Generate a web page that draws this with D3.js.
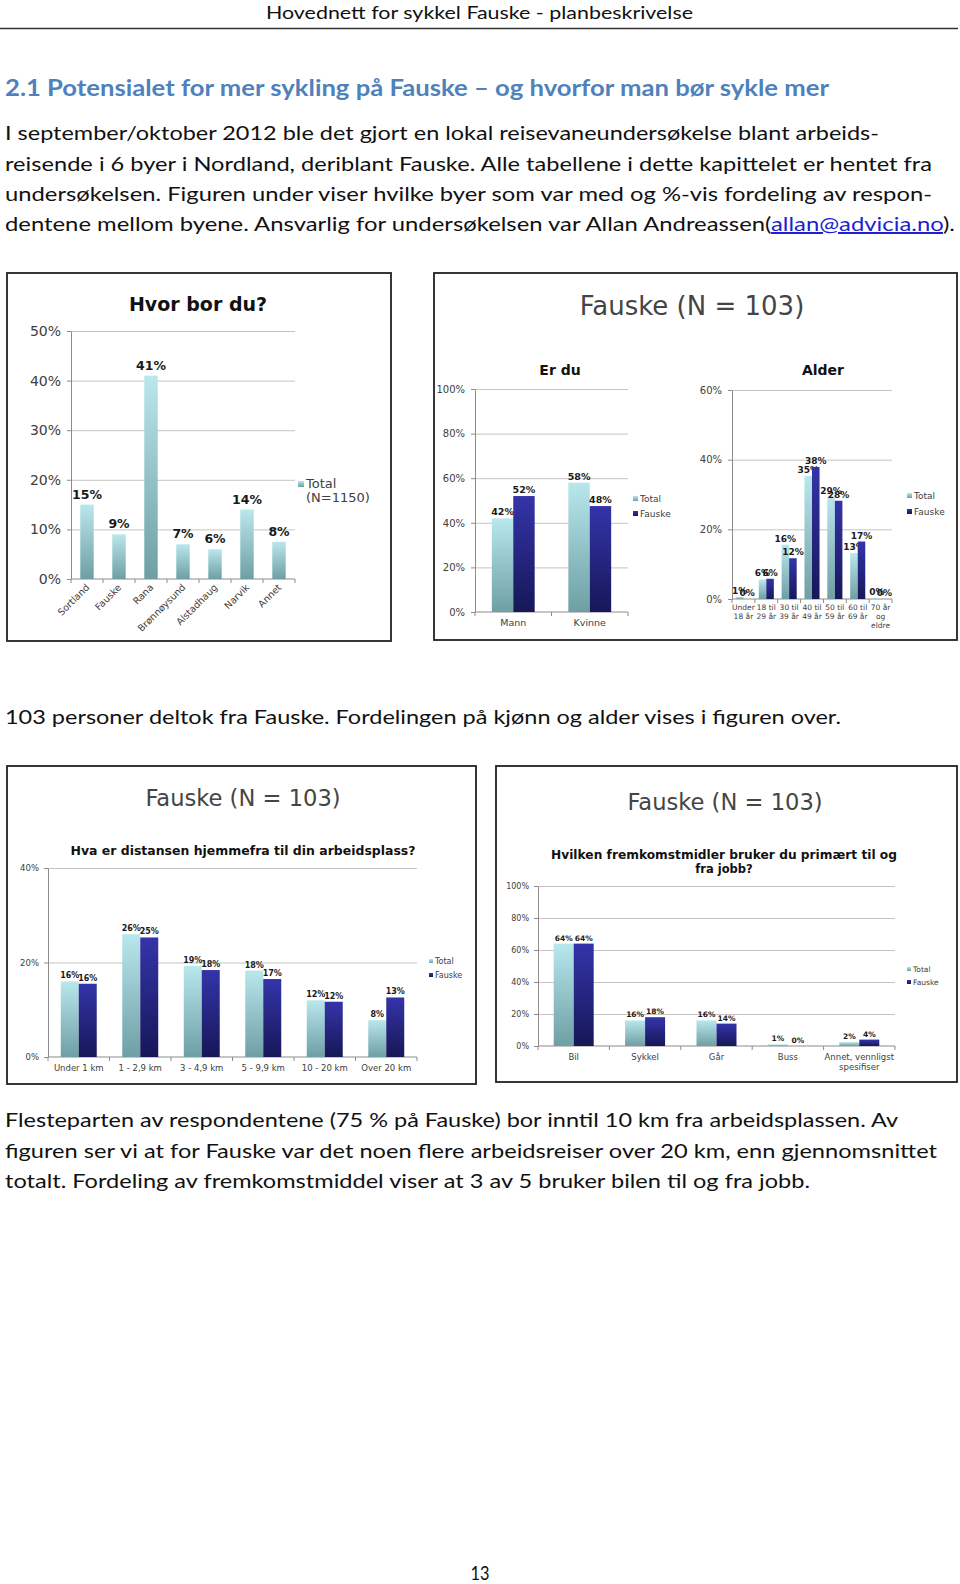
<!DOCTYPE html>
<html>
<head>
<meta charset="utf-8">
<script src="https://cdn.jsdelivr.net/npm/d3@7"></script>
<style>
  body { margin: 0; background: #fff; }
  svg text { font-family: "DejaVu Sans", sans-serif; }
</style>
</head>
<body>
<svg id="page" width="960" height="1584"></svg>
<script>
// Hvor bor du?
const byer = ['Sortland', 'Fauske', 'Rana', 'Brønnøysund', 'Alstadhaug', 'Narvik', 'Annet'];
const byerTotal = [15, 9, 41, 7, 6, 14, 7.5];
const ticksByer = [0, 10, 20, 30, 40, 50];

// Er du
const kjonn = [['Mann'], ['Kvinne']];
const kjonnTotal = [42, 58];
const kjonnFauske = [52, 47.5];
const ticksKjonn = [0, 20, 40, 60, 80, 100];

// Alder
const alder = [['Under', '18 år'], ['18 til', '29 år'], ['30 til', '39 år'], ['40 til', '49 år'],
  ['50 til', '59 år'], ['60 til', '69 år'], ['70 år', 'og', 'eldre']];
const alderTotal = [0.6, 5.6, 15.6, 35.3, 29.3, 13.2, 0.2];
const alderFauske = [0, 5.8, 11.7, 37.9, 28.2, 16.5, 0];
const ticksAlder = [0, 20, 40, 60];

// Avstand til arbeidsplass
const avstand = [['Under 1 km'], ['1 - 2,9 km'], ['3 - 4,9 km'], ['5 - 9,9 km'], ['10 - 20 km'], ['Over 20 km']];
const avstandTotal = [16, 26, 19.3, 18.3, 12, 7.8];
const avstandFauske = [15.5, 25.3, 18.4, 16.5, 11.7, 12.6];
const ticksAvstand = [0, 20, 40];

// Fremkomstmiddel
const reise = [['Bil'], ['Sykkel'], ['Går'], ['Buss'], ['Annet, vennligst', 'spesifiser']];
const reiseTotal = [64, 16, 16, 1, 2.4];
const reiseFauske = [64, 18, 14, 0, 4];
const ticksReise = [0, 20, 40, 60, 80, 100];

const svg = d3.select('#page');

// dégradés des barres
const defs = svg.append('defs');
function grad(id, top, bot) {
  const lg = defs.append('linearGradient').attr('id', id)
    .attr('x1', 0).attr('y1', 0).attr('x2', 0).attr('y2', 1);
  lg.append('stop').attr('offset', '0%').attr('stop-color', top);
  lg.append('stop').attr('offset', '100%').attr('stop-color', bot);
}
grad('gTotal', '#b8e7ec', '#6e9fa5');
grad('gFauske', '#3434aa', '#171758');

// texte du document
function docLine(txt, x, y, len, size, opts = {}) {
  const t = svg.append('text')
    .attr('x', x).attr('y', y)
    .attr('font-family', 'Lato, "Open Sans", sans-serif')
    .attr('font-size', size)
    .attr('fill', opts.fill || '#111')
    .attr('font-weight', opts.bold ? 'bold' : 'normal')
    .attr('textLength', len)
    .attr('lengthAdjust', 'spacingAndGlyphs')
    .style('font-family', 'Lato, "Open Sans", sans-serif');
  if (opts.anchor) t.attr('text-anchor', opts.anchor);
  if (Array.isArray(txt)) {
    txt.forEach(p => {
      const s = t.append('tspan').text(p.t);
      if (p.link) s.attr('fill', '#1f1fd0').style('text-decoration', 'underline');
    });
  } else t.text(txt);
  return t;
}

docLine('Hovednett for sykkel Fauske - planbeskrivelse', 266, 19, 427, 17);
svg.append('line').attr('x1', 0).attr('x2', 958).attr('y1', 28.5).attr('y2', 28.5)
  .attr('stroke', '#333').attr('stroke-width', 1.5);

docLine('2.1 Potensialet for mer sykling på Fauske – og hvorfor man bør sykle mer', 5, 96, 824, 22,
  { bold: true, fill: '#4f81bd' });
docLine('I september/oktober 2012 ble det gjort en lokal reisevaneundersøkelse blant arbeids-', 5, 140, 874, 20);
docLine('reisende i 6 byer i Nordland, deriblant Fauske. Alle tabellene i dette kapittelet er hentet fra', 5, 171, 927, 20);
docLine('undersøkelsen.  Figuren under viser hvilke byer som var med og %-vis fordeling av respon-', 5, 201, 927, 20);
docLine([{ t: 'dentene mellom byene. Ansvarlig for undersøkelsen var Allan Andreassen(' },
  { t: 'allan@advicia.no', link: true }, { t: ').' }], 5, 231, 950, 20);

docLine('103 personer deltok fra Fauske. Fordelingen på kjønn og alder vises i figuren over.', 5, 724, 836, 20);
docLine('Flesteparten av respondentene (75 % på Fauske) bor inntil 10 km fra arbeidsplassen. Av', 5, 1127, 893, 20);
docLine('figuren ser vi at for Fauske var det noen flere arbeidsreiser over 20 km, enn gjennomsnittet', 5, 1158, 932, 20);
docLine('totalt. Fordeling av fremkomstmiddel viser at 3 av 5 bruker bilen til og fra jobb.', 5, 1188, 805, 20);
docLine('13', 480, 1580, 19, 20, { anchor: 'middle' });

// cadres
function frame(x0, y0, x1, y1) {
  svg.append('rect').attr('x', x0).attr('y', y0).attr('width', x1 - x0).attr('height', y1 - y0)
    .attr('fill', 'none').attr('stroke', '#222').attr('stroke-width', 1.8);
}
frame(7, 273, 391, 641);
frame(434, 273, 957, 640);
frame(7, 766, 476, 1084);
frame(496, 766, 957, 1082);

function title(txt, x, y, size, opts = {}) {
  const t = svg.append('text').attr('x', x).attr('y', y).attr('text-anchor', 'middle')
    .attr('font-size', size).attr('fill', opts.fill || '#111')
    .attr('font-weight', opts.bold ? 'bold' : 'normal').text(txt);
  if (opts.len) t.attr('textLength', opts.len).attr('lengthAdjust', 'spacingAndGlyphs');
}

title('Hvor bor du?', 198, 311, 19, { bold: true });
title('Fauske (N = 103)', 692, 315, 26, { fill: '#454545' });
title('Er du', 560, 375, 14, { bold: true });
title('Alder', 823, 375, 14, { bold: true });
title('Fauske (N = 103)', 243, 806, 22.6, { fill: '#454545' });
title('Hva er distansen hjemmefra til din arbeidsplass?', 243, 855, 11.5, { bold: true, len: 345 });
title('Fauske (N = 103)', 725, 810, 22.6, { fill: '#454545' });
title('Hvilken fremkomstmidler bruker du primært til og', 724, 859, 11.5, { bold: true, len: 346 });
title('fra jobb?', 724, 873, 11.5, { bold: true });

function barChart(c) {
  const g = svg.append('g');
  const x = d3.scaleBand().domain(d3.range(c.cats.length)).range([c.left, c.right]);
  const y = d3.scaleLinear().domain([0, d3.max(c.ticks)]).range([c.bottom, c.top]);
  const w = c.right - c.left;

  // grille
  g.append('g').attr('transform', `translate(${c.left},0)`)
    .call(d3.axisLeft(y).tickValues(c.ticks.slice(1)).tickSize(-w).tickFormat(''))
    .call(a => {
      a.select('.domain').remove();
      a.selectAll('line').attr('stroke', '#c4c4c4');
    });

  // axe y
  const ya = g.append('g').attr('transform', `translate(${c.left},0)`)
    .call(d3.axisLeft(y).tickValues(c.ticks).tickSize(4).tickSizeOuter(0)
      .tickPadding(c.tickPad).tickFormat(d => d + '%'));
  ya.select('.domain').attr('stroke', '#8c8c8c');
  ya.selectAll('.tick line').attr('stroke', '#8c8c8c');
  ya.selectAll('text').attr('font-size', c.tickSize).attr('fill', '#404040')
    .attr('font-family', 'DejaVu Sans');

  // axe x
  g.append('line').attr('x1', c.left).attr('x2', c.right)
    .attr('y1', c.bottom).attr('y2', c.bottom).attr('stroke', '#8c8c8c');
  g.selectAll(null).data(d3.range(c.cats.length + 1)).join('line')
    .attr('x1', i => c.left + i * x.step()).attr('x2', i => c.left + i * x.step())
    .attr('y1', c.bottom).attr('y2', c.bottom + 4).attr('stroke', '#8c8c8c');

  // barres
  const grpW = x.bandwidth() * c.frac;
  const sub = d3.scaleBand().domain(d3.range(c.series.length)).range([0, grpW]);
  c.series.forEach((s, si) => {
    const bx = i => x(i) + (x.bandwidth() - grpW) / 2 + sub(si);
    g.selectAll(null).data(s.values).join('rect')
      .attr('x', (d, i) => bx(i)).attr('width', sub.bandwidth())
      .attr('y', d => y(d)).attr('height', d => c.bottom - y(d))
      .attr('fill', s.fill);
    g.selectAll(null).data(s.values).join('text')
      .attr('x', (d, i) => bx(i) + sub.bandwidth() / 2)
      .attr('y', d => y(d) - c.valGap)
      .attr('text-anchor', 'middle').attr('font-weight', 'bold')
      .attr('font-size', c.valSize).attr('fill', '#1a1a1a')
      .text(d => Math.round(d) + '%');
  });

  // étiquettes des catégories
  if (c.rotate) {
    g.selectAll(null).data(c.cats).join('text')
      .attr('transform', (d, i) => `translate(${x(i) + x.bandwidth() / 2 + 3},${c.bottom + 9}) rotate(-45)`)
      .attr('text-anchor', 'end').attr('font-size', c.catSize).attr('fill', '#404040')
      .text(d => d);
  } else {
    const ct = g.selectAll(null).data(c.cats).join('text')
      .attr('text-anchor', 'middle').attr('font-size', c.catSize).attr('fill', '#404040');
    ct.each(function (d, i) {
      d3.select(this).selectAll('tspan').data(d).join('tspan')
        .attr('x', x(i) + x.bandwidth() / 2)
        .attr('y', (l, k) => c.catY + k * c.catDy)
        .text(l => l);
    });
  }

  // légende
  c.legend.forEach((L, li) => {
    const ly = c.legY + li * c.legDy;
    if (L.fill) {
      g.append('rect').attr('x', c.legX).attr('y', ly - c.legSq - 1)
        .attr('width', c.legSq).attr('height', c.legSq).attr('fill', L.fill);
    }
    g.append('text').attr('x', c.legX + c.legSq + 2).attr('y', ly)
      .attr('font-size', c.legSize).attr('fill', '#404040').text(L.text);
  });
}

barChart({
  cats: byer, ticks: ticksByer,
  series: [{ values: byerTotal, fill: 'url(#gTotal)' }],
  left: 71, right: 295, top: 331, bottom: 579, frac: 0.42,
  tickSize: 14, tickPad: 6, valSize: 12.5, valGap: 6, catSize: 9.5, rotate: true,
  legend: [{ text: 'Total', fill: 'url(#gTotal)' }, { text: '(N=1150)' }],
  legX: 298, legY: 488, legDy: 14, legSq: 6, legSize: 13
});

barChart({
  cats: kjonn, ticks: ticksKjonn,
  series: [{ values: kjonnTotal, fill: 'url(#gTotal)' }, { values: kjonnFauske, fill: 'url(#gFauske)' }],
  left: 475, right: 628, top: 389, bottom: 612, frac: 0.56,
  tickSize: 10, tickPad: 6, valSize: 9.5, valGap: 3, catSize: 9.5, catY: 626, catDy: 10,
  legend: [{ text: 'Total', fill: 'url(#gTotal)' }, { text: 'Fauske', fill: 'url(#gFauske)' }],
  legX: 633, legY: 502, legDy: 15, legSq: 5, legSize: 9
});

barChart({
  cats: alder, ticks: ticksAlder,
  series: [{ values: alderTotal, fill: 'url(#gTotal)' }, { values: alderFauske, fill: 'url(#gFauske)' }],
  left: 732, right: 892, top: 390, bottom: 599, frac: 0.66,
  tickSize: 10, tickPad: 6, valSize: 9, valGap: 3, catSize: 7.5, catY: 610, catDy: 9,
  legend: [{ text: 'Total', fill: 'url(#gTotal)' }, { text: 'Fauske', fill: 'url(#gFauske)' }],
  legX: 907, legY: 499, legDy: 16, legSq: 5, legSize: 9
});

barChart({
  cats: avstand, ticks: ticksAvstand,
  series: [{ values: avstandTotal, fill: 'url(#gTotal)' }, { values: avstandFauske, fill: 'url(#gFauske)' }],
  left: 48, right: 417, top: 868, bottom: 1057, frac: 0.585,
  tickSize: 8.5, tickPad: 5, valSize: 8, valGap: 3, catSize: 8.5, catY: 1071, catDy: 10,
  legend: [{ text: 'Total', fill: 'url(#gTotal)' }, { text: 'Fauske', fill: 'url(#gFauske)' }],
  legX: 429, legY: 964, legDy: 14, legSq: 4, legSize: 8
});

barChart({
  cats: reise, ticks: ticksReise,
  series: [{ values: reiseTotal, fill: 'url(#gTotal)' }, { values: reiseFauske, fill: 'url(#gFauske)' }],
  left: 538, right: 895, top: 886, bottom: 1046, frac: 0.56,
  tickSize: 8, tickPad: 5, valSize: 7.5, valGap: 3, catSize: 8.5, catY: 1060, catDy: 10,
  legend: [{ text: 'Total', fill: 'url(#gTotal)' }, { text: 'Fauske', fill: 'url(#gFauske)' }],
  legX: 907, legY: 972, legDy: 13, legSq: 4, legSize: 7.5
});
</script>
</body>
</html>
